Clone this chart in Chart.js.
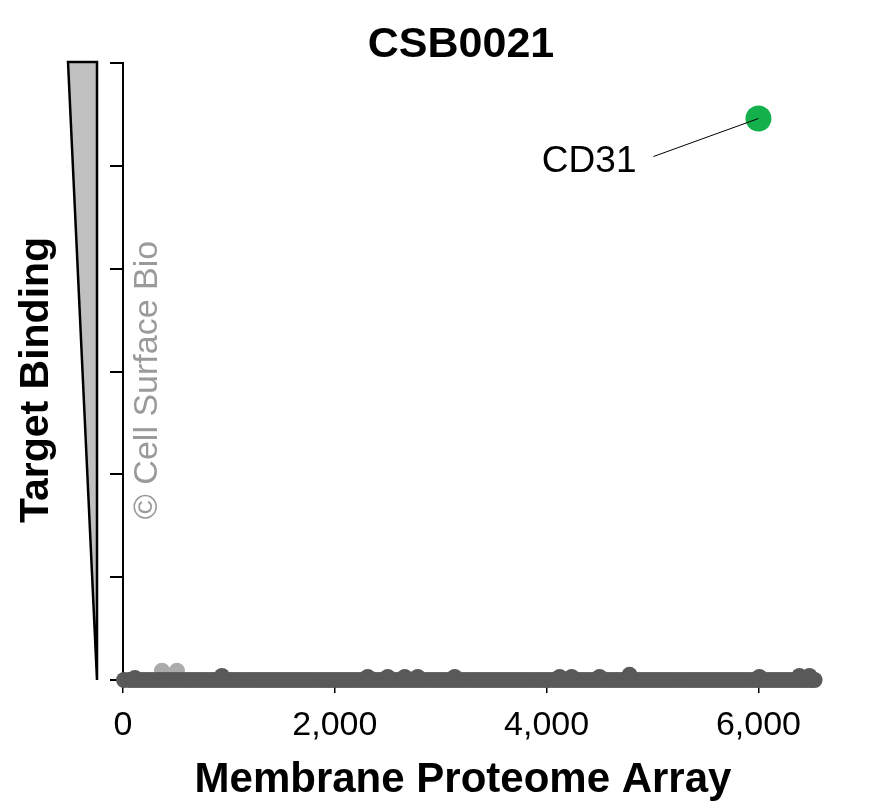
<!DOCTYPE html>
<html>
<head>
<meta charset="utf-8">
<script src="https://cdn.jsdelivr.net/npm/chart.js@4/dist/chart.umd.min.js"></script>
<style>
  html, body { margin: 0; padding: 0; background: #fff; }
  #wrap { width: 877px; height: 806px; }
</style>
</head>
<body>
<div id="wrap"><canvas id="chart" width="877" height="806"></canvas></div>
<script>
// Données
const chartTitle = 'CSB0021';
const xTitle = 'Membrane Proteome Array';
const yTitle = 'Target Binding';
const watermark = '© Cell Surface Bio';

const xTickValues = [0, 2000, 4000, 6000];
const yTickValues = [0, 1, 2, 3, 4, 5, 6];

// bande dense de protéines sans liaison
const bandX = [
  10, 60, 100, 140, 180, 220, 260, 300, 340, 380, 420, 460, 500, 540, 580, 620, 660, 700, 740, 780,
  820, 860, 900, 940, 980, 1020, 1060, 1100, 1140, 1180, 1220, 1260, 1300, 1340, 1380, 1420, 1460, 1500, 1540, 1580,
  1620, 1660, 1700, 1740, 1780, 1820, 1860, 1900, 1940, 1980, 2020, 2060, 2100, 2140, 2180, 2220, 2260, 2300, 2340, 2380,
  2420, 2460, 2500, 2540, 2580, 2620, 2660, 2700, 2740, 2780, 2820, 2860, 2900, 2940, 2980, 3020, 3060, 3100, 3140, 3180,
  3220, 3260, 3300, 3340, 3380, 3420, 3460, 3500, 3540, 3580, 3620, 3660, 3700, 3740, 3780, 3820, 3860, 3900, 3940, 3980,
  4020, 4060, 4100, 4140, 4180, 4220, 4260, 4300, 4340, 4380, 4420, 4460, 4500, 4540, 4580, 4620, 4660, 4700, 4740, 4780,
  4820, 4860, 4900, 4940, 4980, 5020, 5060, 5100, 5140, 5180, 5220, 5260, 5300, 5340, 5380, 5420, 5460, 5500, 5540, 5580,
  5620, 5660, 5700, 5740, 5780, 5820, 5860, 5900, 5940, 5980, 6020, 6060, 6100, 6140, 6180, 6220, 6260, 6300, 6340, 6380,
  6420, 6460, 6500, 6530
];
const bandY = [
  0, 0, 0, 0, 0, 0, 0, 0, 0, 0, 0, 0, 0, 0, 0, 0, 0, 0, 0, 0,
  0, 0, 0, 0, 0, 0, 0, 0, 0, 0, 0, 0, 0, 0, 0, 0, 0, 0, 0, 0,
  0, 0, 0, 0, 0, 0, 0, 0, 0, 0, 0, 0, 0, 0, 0, 0, 0, 0, 0, 0,
  0, 0, 0, 0, 0, 0, 0, 0, 0, 0, 0, 0, 0, 0, 0, 0, 0, 0, 0, 0,
  0, 0, 0, 0, 0, 0, 0, 0, 0, 0, 0, 0, 0, 0, 0, 0, 0, 0, 0, 0,
  0, 0, 0, 0, 0, 0, 0, 0, 0, 0, 0, 0, 0, 0, 0, 0, 0, 0, 0, 0,
  0, 0, 0, 0, 0, 0, 0, 0, 0, 0, 0, 0, 0, 0, 0, 0, 0, 0, 0, 0,
  0, 0, 0, 0, 0, 0, 0, 0, 0, 0, 0, 0, 0, 0, 0, 0, 0, 0, 0, 0,
  0, 0, 0, 0
];

// points légèrement au-dessus de la bande
const raisedX = [113, 934, 2311, 2500, 2660, 2783, 3132, 4123, 4236, 4500, 4783, 6009, 6387, 6481];
const raisedY = [0.02, 0.04, 0.03, 0.03, 0.03, 0.03, 0.03, 0.03, 0.03, 0.03, 0.05, 0.03, 0.04, 0.04];

// points clairs
const faintX = [368, 509];
const faintY = [0.09, 0.09];

// cible identifiée
const hitLabels = ['CD31'];
const hitX = [6000];
const hitY = [5.46];

const FONT = "'Liberation Sans', Arial, Helvetica, sans-serif";
Chart.defaults.font.family = FONT;

function toPoints(xs, ys) {
    return xs.map((x, i) => ({ x: x, y: ys[i] }));
}

// Dessins hors données : triangle, titres, filigrane, étiquette
const decorPlugin = {
    id: 'decor',
    afterDatasetsDraw(chart) {
        const ctx = chart.ctx;
        const area = chart.chartArea;
        const xs = chart.scales.x;
        const ys = chart.scales.y;

        // triangle gris
        ctx.save();
        ctx.beginPath();
        ctx.moveTo(68, area.top - 1);
        ctx.lineTo(97, area.top - 1);
        ctx.lineTo(97, area.bottom);
        ctx.closePath();
        ctx.fillStyle = '#c0c0c0';
        ctx.fill();
        ctx.lineWidth = 2.5;
        ctx.lineJoin = 'miter';
        ctx.strokeStyle = '#000';
        ctx.stroke();
        ctx.restore();

        // étiquette CD31 et trait
        hitLabels.forEach((lab, i) => {
            const px = xs.getPixelForValue(hitX[i]);
            const py = ys.getPixelForValue(hitY[i]);
            ctx.save();
            ctx.beginPath();
            ctx.moveTo(px - 105, py + 38);
            ctx.lineTo(px, py);
            ctx.strokeStyle = '#000';
            ctx.lineWidth = 1;
            ctx.stroke();
            ctx.fillStyle = '#000';
            ctx.font = '37px ' + FONT;
            ctx.textAlign = 'right';
            ctx.textBaseline = 'alphabetic';
            ctx.fillText(lab, px - 122, py + 53);
            ctx.restore();
        });

        // titre
        ctx.save();
        ctx.fillStyle = '#000';
        ctx.font = 'bold 43px ' + FONT;
        ctx.textAlign = 'center';
        ctx.textBaseline = 'alphabetic';
        ctx.fillText(chartTitle, 461, 57);

        // titre axe x
        ctx.font = 'bold 42px ' + FONT;
        ctx.fillText(xTitle, 463, 792);
        ctx.restore();

        // titre axe y
        ctx.save();
        ctx.translate(37, 380);
        ctx.rotate(-Math.PI / 2);
        ctx.fillStyle = '#000';
        ctx.font = 'bold 41px ' + FONT;
        ctx.textAlign = 'center';
        ctx.textBaseline = 'middle';
        ctx.fillText(yTitle, 0, 0);
        ctx.restore();

        // filigrane
        ctx.save();
        ctx.translate(148, 380);
        ctx.rotate(-Math.PI / 2);
        ctx.fillStyle = '#9a9a9a';
        ctx.font = '34px ' + FONT;
        ctx.textAlign = 'center';
        ctx.textBaseline = 'middle';
        ctx.fillText(watermark, 0, 0);
        ctx.restore();
    }
};

const ctx = document.getElementById('chart').getContext('2d');
const chart = new Chart(ctx, {
    type: 'scatter',
    data: {
        datasets: [
            {
                label: 'Hit',
                data: toPoints(hitX, hitY),
                backgroundColor: '#14b04c',
                borderWidth: 0,
                pointRadius: 13,
                clip: false
            },
            {
                label: 'Band',
                data: toPoints(bandX, bandY).concat(toPoints(raisedX, raisedY)),
                backgroundColor: '#595959',
                borderWidth: 0,
                pointRadius: 8,
                clip: false
            },
            {
                label: 'Faint',
                data: toPoints(faintX, faintY),
                backgroundColor: '#ababab',
                borderWidth: 0,
                pointRadius: 8,
                clip: false
            }
        ]
    },
    options: {
        responsive: false,
        animation: false,
        layout: { padding: { top: 63, right: 55, bottom: 0, left: 0 } },
        plugins: {
            legend: { display: false },
            tooltip: { enabled: false },
            title: { display: false }
        },
        scales: {
            x: {
                type: 'linear',
                min: 0,
                max: 6600,
                afterFit(scale) { scale.height = 126; },
                afterBuildTicks(scale) {
                    scale.ticks = xTickValues.map(v => ({ value: v }));
                },
                border: { display: false },
                grid: {
                    drawOnChartArea: false,
                    drawTicks: true,
                    tickLength: 13,
                    color: '#000',
                    lineWidth: 1.5
                },
                ticks: {
                    color: '#000',
                    font: { size: 34 },
                    padding: 12,
                    maxRotation: 0,
                    callback: v => v.toLocaleString('en-US')
                }
            },
            y: {
                type: 'linear',
                min: 0,
                max: 6,
                afterFit(scale) { scale.width = 123; },
                afterBuildTicks(scale) {
                    scale.ticks = yTickValues.map(v => ({ value: v }));
                },
                border: { display: true, color: '#000', width: 2 },
                grid: {
                    drawOnChartArea: false,
                    drawTicks: true,
                    tickLength: 13,
                    color: '#000',
                    lineWidth: 2
                },
                ticks: { display: false }
            }
        }
    },
    plugins: [decorPlugin]
});
</script>
</body>
</html>
